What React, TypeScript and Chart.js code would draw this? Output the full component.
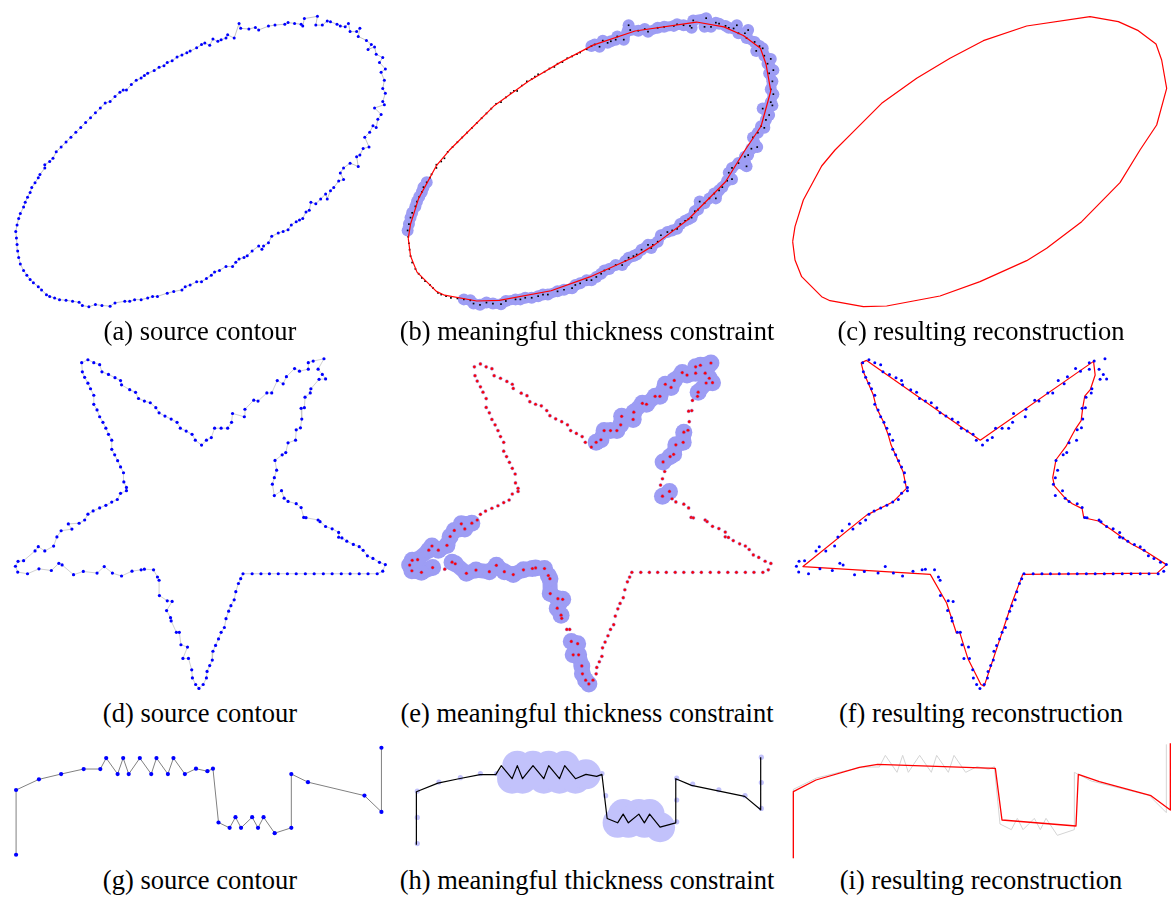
import React, { useEffect, useRef } from "react";
import { Chart, registerables } from "chart.js";
Chart.register(...registerables);

type P = [number, number];

// ---------- Data (units: 1/3 pixel of each panel) ----------
// Ellipse source contour, split into segments (noisy parts get thickness blobs)
const ellipseLeftNoisy: P[] = [[36,700],[40,680],[45,660],[50,645],[60,625],[65,610],[72,595],[80,580],[85,565],[95,550]];
const ellipseUpperQuiet: P[] = [[105,535],[110,525],[125,505],[125,495],[140,485],[150,475],[160,455],[175,440],[190,425],[205,410],[220,395],[235,380],[250,365],[265,350],[280,335],[295,320],[310,305],[325,300],[340,285],[355,272],[365,265],[375,265],[390,248],[405,235],[420,228],[430,220],[440,213],[460,205],[475,195],[490,190],[500,180],[515,175],[530,163],[545,157],[560,150],[570,145],[590,135]];
const ellipseNoisy: P[] = [[605,125],[615,120],[630,127],[640,108],[655,115],[665,110],[680,105],[685,95],[705,105],[720,60],[725,75],[750,77],[770,72],[780,80],[810,68],[830,65],[860,62],[870,57],[890,60],[910,62],[915,68],[920,45],[960,38],[955,65],[975,65],[990,52],[1000,55],[1020,62],[1030,68],[1045,70],[1055,60],[1060,85],[1080,85],[1090,75],[1085,100],[1110,112],[1125,125],[1115,140],[1135,132],[1140,155],[1160,165],[1150,180],[1168,200],[1155,210],[1165,235],[1160,260],[1168,275],[1160,300],[1165,310],[1135,320],[1155,340],[1145,355],[1140,380],[1130,375],[1120,395],[1105,410],[1118,440],[1100,445],[1090,465],[1080,470],[1085,500],[1060,490],[1040,505],[1030,520],[1040,540],[1025,545],[1010,565],[1000,575],[990,600],[985,585],[970,600],[955,615],[940,610],[935,635],[925,640],[915,660],[905,665],[895,670],[880,680],[870,695],[855,700],[840,705],[820,715],[810,735],[795,745],[790,755],[780,745],[760,760],[745,775],[735,780],[720,785],[710,795],[700,808],[680,808],[660,820],[645,825],[635,835],[620,845],[605,855],[590,855],[570,865],[555,870],[545,880],[520,885],[500,890],[470,900],[455,900],[440,905],[420,910],[400,910],[385,915],[370,915],[340,920],[325,930],[300,928],[280,925],[260,932],[240,928],[230,918],[210,915]];
const ellipseBottomQuiet: P[] = [[190,912],[170,910],[155,905],[140,900],[130,895],[115,880],[105,870],[90,858],[80,848],[70,835],[60,820],[50,800],[45,780],[42,760],[40,740],[38,720]];
const ellipseRecon: P[] = [[38,725],[45,680],[70,600],[125,498],[165,450],[215,400],[305,310],[410,235],[510,175],[610,122],[740,78],[930,50],[1015,65],[1075,92],[1128,132],[1145,180],[1160,265],[1130,375],[1080,450],[1020,548],[905,665],[800,745],[740,782],[600,845],[480,888],[320,918],[250,920],[150,902],[125,890],[65,830],[45,780]];

// Star source contour segments (clockwise from top-left tip)
const starA: P[] = [[238,42],[257,33],[275,42],[293,48],[300,70],[320,78],[340,88],[357,97],[360,110],[385,125],[403,133],[412,152],[430,160],[448,165],[465,180],[475,196],[493,206],[512,215],[530,225],[540,243],[558,252],[576,262],[586,280],[605,295]];
const starB: P[] = [[620,280],[635,272],[645,243],[665,243],[685,243],[697,225],[700,198],[736,208],[738,185],[765,157],[778,160],[805,135],[820,135],[837,97],[855,107],[865,85],[890,60],[905,68],[932,62],[932,42],[947,37],[980,30],[962,62],[975,78],[985,92],[965,93],[940,122]];
const starC: P[] = [[938,135],[922,148],[920,180],[910,182],[912,215],[908,242]];
const starD: P[] = [[895,248],[893,280],[870,288],[863,318],[852,325],[830,342]];
const starE: P[] = [[835,372],[828,395],[822,415]];
const starF: P[] = [[828,450],[850,435]];
const starG: P[] = [[858,458],[870,468],[895,475],[910,487],[918,517],[925,518],[962,525],[968,530],[985,545],[1005,552],[1025,563],[1025,578],[1035,580],[1050,590],[1070,600],[1088,607],[1100,618],[1113,635],[1130,643],[1150,655],[1168,662],[1160,682],[1143,690],[1115,690],[1088,690],[1060,690],[1033,690],[1005,690],[978,690],[950,690],[923,690],[895,690],[868,690],[840,690],[813,690],[787,690],[760,690],[732,690],[725,705],[718,720],[710,745],[705,770],[695,788],[688,805],[680,828],[675,855],[665,870],[657,890],[648,910],[640,928],[638,955],[630,972],[622,990],[620,1010],[610,1030]];
const starH: P[] = [[597,1042],[587,1030],[577,1010],[575,985],[565,950],[548,950],[562,915],[542,908]];
const starI: P[] = [[537,870],[528,870],[512,835]];
const starJ: P[] = [[510,825],[498,803],[515,775],[500,773],[476,757],[475,710],[470,700],[458,678],[430,676],[420,678],[392,682],[360,697],[332,688],[307,668],[285,688],[243,683],[213,693],[178,663],[168,658]];
const starK: P[] = [[145,680]];
const starL: P[] = [[107,675],[72,690],[42,685],[35,667],[43,652],[60,650],[95,620],[105,607],[125,620],[152,605],[162,577],[175,558],[208,553],[197,537],[230,535]];
const starM: P[] = [[247,525],[257,507],[273,497],[293,488],[312,480],[330,470],[347,462],[357,443],[375,435],[375,425],[367,408],[366,380],[357,362],[348,343],[339,325],[330,308],[330,280],[320,262],[312,243],[303,225],[293,208],[285,187],[275,170],[275,142],[265,122],[257,105],[247,87],[240,70]];
const starRecon: P[] = [[233,42],[250,35],[598,280],[945,38],[950,80],[935,125],[918,145],[912,180],[907,220],[890,245],[860,300],[830,340],[820,395],[825,420],[860,460],[880,475],[910,490],[915,518],[960,528],[1000,555],[1060,598],[1110,625],[1168,662],[1140,688],[728,692],[710,740],[695,780],[680,825],[665,870],[610,1035],[600,1030],[560,950],[535,870],[525,872],[495,780],[445,692],[55,668],[250,510],[330,470],[350,450],[372,428],[362,378],[345,340],[325,295],[315,260],[300,220],[280,180],[270,140],[255,105],[240,70]];

// Step contour (row 3)
const stepContour: P[] = [[37,370],[37,163],[107,129],[175,112],[244,96],[295,96],[313,61],[348,112],[365,61],[382,112],[416,61],[451,112],[467,61],[502,112],[519,61],[554,112],[588,95],[623,103],[640,95],[657,267],[691,284],[709,250],[726,284],[760,250],[778,284],[795,250],[829,301],[880,284],[880,112],[931,138],[1104,181],[1156,233],[1156,28]];
const stepNoisyRanges: [number, number][] = [[7, 17], [20, 27]];
const stepSamples: P[] = [[40,160],[40,263],[40,365],[110,125],[180,108],[245,92],[298,92],[640,92],[652,178],[883,110],[883,195],[883,280],[935,133],[1020,155],[1105,178],[1158,127],[1158,228],[1158,28]];
const stepRecon: P[] = [[37,370],[37,170],[105,135],[235,97],[290,88],[643,100],[663,255],[885,273],[892,118],[955,140],[1110,182],[1168,225],[1168,25]];

const captionsRow1 = ["(a) source contour", "(b) meaningful thickness constraint", "(c) resulting reconstruction"];
const captionsRow2 = ["(d) source contour", "(e) meaningful thickness constraint", "(f) resulting reconstruction"];
const captionsRow3 = ["(g) source contour", "(h) meaningful thickness constraint", "(i) resulting reconstruction"];

// ---------- Helpers ----------
const ellipse = [...ellipseLeftNoisy, ...ellipseUpperQuiet, ...ellipseNoisy, ...ellipseBottomQuiet];
const ellipseBlobs = [...ellipseLeftNoisy, ...ellipseNoisy];
const star = [...starA, ...starB, ...starC, ...starD, ...starE, ...starF, ...starG, ...starH, ...starI, ...starJ, ...starK, ...starL, ...starM];
const starBlobs = [...starB, ...starD, ...starF, ...starH, ...starJ, ...starL];
const stepBlobs = stepNoisyRanges.flatMap(([a, b]) => stepContour.slice(a, b));

const toXY = (pts: P[]) => pts.map(([x, y]) => ({ x, y }));
const closed = (pts: P[]) => [...pts, pts[0]];
const line = (pts: P[], color: string, width: number, order: number) => ({
  data: toXY(pts), showLine: true, borderColor: color, borderWidth: width,
  pointRadius: 0, order, clip: false, tension: 0, borderJoinStyle: "round",
});
const dots = (pts: P[], color: string, radius: number, order: number, extra: any = {}) => ({
  data: toXY(pts), showLine: false, pointRadius: radius, pointBackgroundColor: color,
  pointBorderWidth: 0, pointBorderColor: color, order, clip: false, ...extra,
});
const band = (pts: P[], color: string, width: number, order: number) => ({
  data: toXY(pts), showLine: true, borderColor: color, borderWidth: width,
  pointRadius: width / 2, pointBackgroundColor: color, pointBorderWidth: 0,
  order, clip: false, tension: 0, borderJoinStyle: "round", borderCapStyle: "round",
});

const BLOB = "#9d9df4";
const BLOB_LIGHT = "#c2c2fb";

type PanelDef = { left: number; top: number; width: number; height: number; datasets: () => any[] };

const panels: PanelDef[] = [
  { left: 0, top: 0, width: 390, height: 315, datasets: () => [
    line(closed(ellipse), "#b4b4b4", 0.8, 2),
    dots(ellipse, "#0000ff", 1.5, 1),
  ]},
  { left: 390, top: 0, width: 390, height: 315, datasets: () => [
    band(ellipseLeftNoisy, BLOB, 10, 6),
    band(ellipseNoisy, BLOB, 10, 6),
    dots(ellipseBlobs, BLOB, 6, 6),
    dots(ellipse, "#000000", 1.2, 3, { pointStyle: "rect" }),
    line(closed(ellipseRecon), "#ff0000", 1.2, 2),
  ]},
  { left: 780, top: 0, width: 390, height: 315, datasets: () => [
    line(closed(ellipseRecon), "#ff0000", 1.2, 2),
  ]},
  { left: 0, top: 345, width: 390, height: 350, datasets: () => [
    line(closed(star), "#c4c4c4", 0.8, 2),
    dots(star, "#0000ff", 1.6, 1),
  ]},
  { left: 390, top: 345, width: 390, height: 350, datasets: () => [
    band(starB, BLOB, 15, 6),
    band(starD, BLOB, 15, 6),
    band(starF, BLOB, 15, 6),
    band(starH, BLOB, 15, 6),
    band(starJ, BLOB, 15, 6),
    band(starL, BLOB, 15, 6),
    dots(starBlobs, BLOB, 8.5, 6),
    dots(star, "#ff0000", 1.6, 1, { pointBorderWidth: 0.5, pointBorderColor: "rgba(120,120,255,0.7)" }),
  ]},
  { left: 781, top: 345, width: 390, height: 350, datasets: () => [
    line(closed(starRecon), "#ff0000", 1.2, 2),
    dots(star, "#0000ff", 1.5, 1),
  ]},
  { left: 0, top: 735, width: 390, height: 130, datasets: () => [
    line(stepContour, "#808080", 1, 2),
    dots(stepContour, "#0000ff", 2.1, 1),
  ]},
  { left: 390, top: 735, width: 390, height: 130, datasets: () => [
    dots(stepBlobs, BLOB_LIGHT, 15, 6),
    dots(stepSamples, BLOB_LIGHT, 2.6, 5),
    line(stepContour, "#000000", 1.2, 2),
  ]},
  { left: 781, top: 735, width: 390, height: 130, datasets: () => [
    line(stepContour, "#d4d4d4", 1, 3),
    line(stepRecon, "#ff0000", 1.3, 2),
  ]},
];

function Panel({ def }: { def: PanelDef }) {
  const ref = useRef<HTMLCanvasElement>(null);
  useEffect(() => {
    const chart = new Chart(ref.current!, {
      type: "scatter",
      data: { datasets: def.datasets() },
      options: {
        animation: false,
        responsive: false,
        maintainAspectRatio: false,
        events: [],
        layout: { padding: 0 },
        plugins: { legend: { display: false }, tooltip: { enabled: false } },
        scales: {
          x: { type: "linear", min: 0, max: def.width * 3, display: false },
          y: { type: "linear", min: 0, max: def.height * 3, reverse: true, display: false },
        },
      },
    } as any);
    return () => chart.destroy();
  }, []);
  return (
    <canvas
      ref={ref}
      width={def.width}
      height={def.height}
      style={{ position: "absolute", left: def.left, top: def.top, width: def.width, height: def.height }}
    />
  );
}

const captionCenters = [200, 587, 981];
const captionRows: { top: number; texts: string[] }[] = [
  { top: 316, texts: captionsRow1 },
  { top: 698, texts: captionsRow2 },
  { top: 865, texts: captionsRow3 },
];

export default function App() {
  return (
    <div style={{ position: "absolute", left: 0, top: 0, width: 1171, height: 899, background: "#fff", overflow: "hidden" }}>
      {panels.map((p, i) => <Panel key={i} def={p} />)}
      {captionRows.map((row, r) =>
        row.texts.map((t, c) => (
          <div
            key={`${r}-${c}`}
            style={{
              position: "absolute", left: captionCenters[c] - 250, top: row.top, width: 500, height: 30,
              lineHeight: "30px", textAlign: "center", fontFamily: "'Liberation Serif', 'Times New Roman', serif",
              fontSize: 26.5, color: "#000", whiteSpace: "nowrap",
            }}
          >
            {t}
          </div>
        ))
      )}
    </div>
  );
}
